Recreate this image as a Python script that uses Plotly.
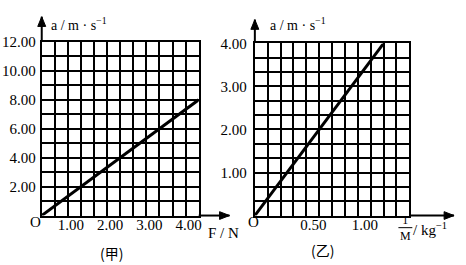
import plotly.graph_objects as go

W, H = 466, 265

# Data
f_vals = [0.0, 4.0]          # F / N  (甲)
a_vals_f = [0.0, 8.0]        # a / m·s^-1
invm_vals = [0.0, 1.25]      # 1/M / kg^-1 (乙)
a_vals_m = [0.0, 4.0]

x1_ticks = [1, 2, 3, 4]
x1_text = ["1.00", "2.00", "3.00", "4.00"]
y1_ticks = [2, 4, 6, 8, 10, 12]
y1_text = ["2.00", "4.00", "6.00", "8.00", "10.00", "12.00"]
x2_ticks = [0.5, 1.0]
x2_text = ["0.50", "1.00"]
y2_ticks = [1, 2, 3, 4]
y2_text = ["1.00", "2.00", "3.00", "4.00"]

SERIF = "Liberation Serif, Times New Roman, serif"
CJK = "Noto Sans CJK SC"

def px(x):
    return x / W

def py(y):
    return 1 - y / H

fig = go.Figure()
fig.add_trace(go.Scatter(x=f_vals, y=a_vals_f, mode="lines",
                         line=dict(color="black", width=3), xaxis="x", yaxis="y",
                         showlegend=False))
fig.add_trace(go.Scatter(x=invm_vals, y=a_vals_m, mode="lines",
                         line=dict(color="black", width=3), xaxis="x2", yaxis="y2",
                         showlegend=False))

def axis(domain, rng, tickvals, ticktext, minor_dt, anchor, shift=0, standoff=3):
    return dict(domain=domain, range=rng, anchor=anchor,
                tickvals=tickvals, ticktext=ticktext, ticks="",
                showline=True, mirror=True, linecolor="black", linewidth=2,
                showgrid=True, gridcolor="black", gridwidth=2,
                minor=dict(dtick=minor_dt, tick0=0, showgrid=True,
                           gridcolor="black", gridwidth=2, ticks=""),
                zeroline=False, fixedrange=True,
                tickfont=dict(family=SERIF, size=15, color="black"),
                ticklabelshift=shift, ticklabelstandoff=standoff)

fig.update_layout(
    width=W, height=H, margin=dict(l=0, r=0, t=0, b=0),
    paper_bgcolor="white", plot_bgcolor="white",
    xaxis=axis([px(42), px(200)], [0, 4], x1_ticks, x1_text, 1/3, "y", shift=-10, standoff=-6),
    yaxis=axis([py(214), py(35)], [0, 12], y1_ticks, y1_text, 1, "x", standoff=1),
    xaxis2=axis([px(256.5), px(412)], [0, 1.5], x2_ticks, x2_text, 0.125, "y2", shift=7, standoff=-6),
    yaxis2=axis([py(214), py(36.5)], [0, 4], y2_ticks, y2_text, 1/3, "x2", standoff=3),
)

shapes = []
# axis extension lines and filled arrowheads
def arrow(x0, y0, x1, y1, direction):
    shapes.append(dict(type="line", xref="paper", yref="paper",
                       x0=px(x0), y0=py(y0), x1=px(x1), y1=py(y1),
                       line=dict(color="black", width=2)))
    tx, ty = x1, y1
    if direction == "up":
        pts = [(tx, ty), (tx - 4, ty + 10), (tx + 4, ty + 10)]
    else:
        pts = [(tx, ty), (tx - 10, ty - 4), (tx - 10, ty + 4)]
    path = "M {} {} L {} {} L {} {} Z".format(
        *[v for p in pts for v in (px(p[0]), py(p[1]))])
    shapes.append(dict(type="path", xref="paper", yref="paper", path=path,
                       fillcolor="black", line=dict(color="black", width=1)))

arrow(42, 35, 42, 9, "up")
arrow(200, 214, 231, 214, "right")
arrow(256.5, 36, 256.5, 12, "up")
arrow(412, 214, 457, 214, "right")

# fraction bar for 1/M
shapes.append(dict(type="line", xref="paper", yref="paper",
                   x0=px(401), x1=px(415), y0=py(226.5), y1=py(226.5),
                   line=dict(color="black", width=1)))

ann = []
def txt(t, x, y, xanchor="center", size=14, family=SERIF):
    ann.append(dict(x=px(x), y=py(y), xref="paper", yref="paper", text=t,
                    showarrow=False, xanchor=xanchor, yanchor="middle",
                    font=dict(family=family, size=size, color="black")))

txt("a / m · s<sup>−1</sup>", 49, 16, "left", 14)
txt("a / m · s<sup>−1</sup>", 270, 17, "left", 14)
txt("F / N", 207, 232, "left", 15)
txt("O", 36, 221, size=15)
txt("O", 255.5, 221, size=15)
txt("(甲)", 112, 253, size=14, family=CJK)
txt("(乙)", 325, 250, size=14, family=CJK)
txt("1<br>M", 408.5, 227, size=12)
txt("/ kg<sup>−1</sup>", 414, 228, "left", 15)

fig.update_layout(annotations=ann, shapes=shapes)

fig.write_html("out.html")
